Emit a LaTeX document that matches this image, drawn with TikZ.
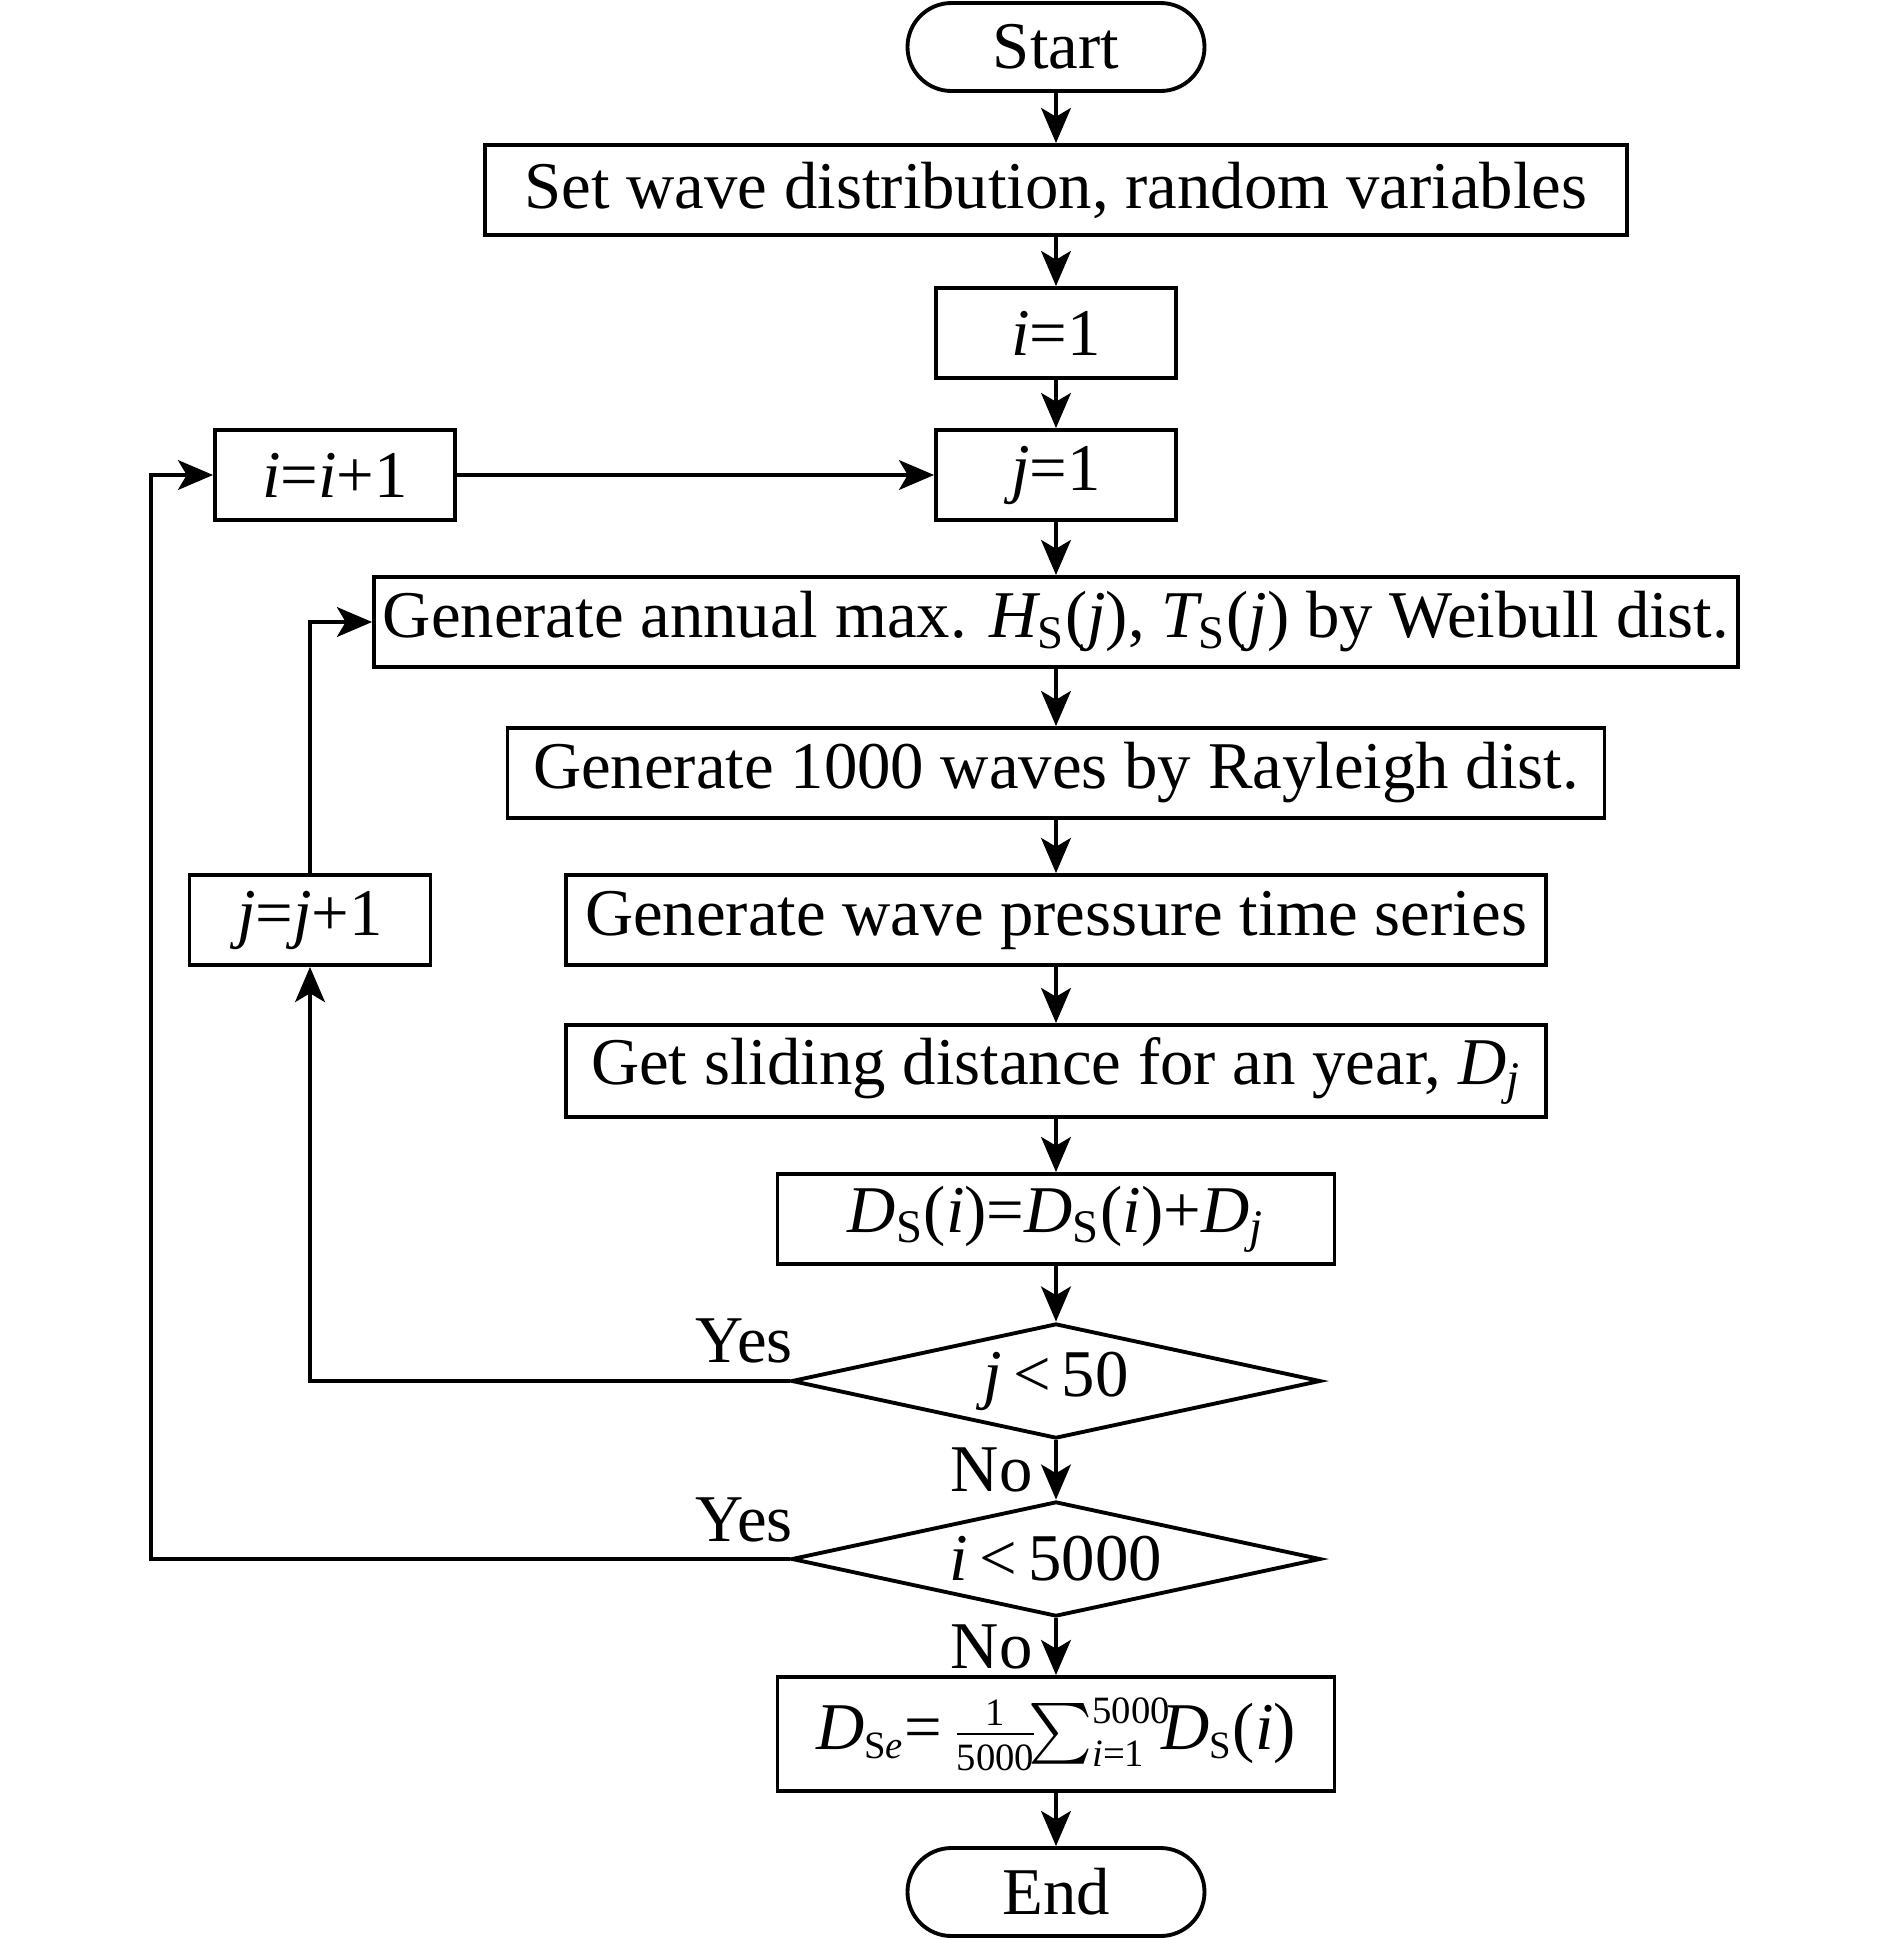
\documentclass[tikz,border=0pt]{standalone}
\usepackage{amsmath}
\usepackage{fontspec}
\setmainfont{Liberation Serif}
\usetikzlibrary{shapes.geometric,arrows.meta,positioning}

\newcommand{\tinytxt}[1]{\mbox{\fontsize{11}{12}\selectfont #1}}

\tikzset{
  procbox/.style={draw, line width=1.1pt, minimum height=0.90cm, inner sep=0pt},
  termbox/.style={draw, line width=1.1pt, rounded corners=0.44cm, minimum width=2.97cm, minimum height=0.88cm, inner sep=0pt},
  testbox/.style={draw, diamond, aspect=4.6, line width=1.1pt, minimum width=5.29cm, minimum height=1.15cm, inner sep=0pt},
  flow/.style={line width=0.9pt, -{Stealth[length=10pt, width=8.5pt, inset=2.5pt]}},
  note/.style={inner sep=0pt},
}

\begin{document}
\begin{tikzpicture}[font=\fontsize{19}{23}\selectfont]
  \useasboundingbox (0,0) rectangle (18.9,-19.39);

  % main column
  \node[termbox] (start) at (10.56,-0.47) {Start};
  \node[procbox, minimum width=11.42cm] (setup) at (10.56,-1.90) {Set wave distribution, random variables};
  \node[procbox, minimum width=2.40cm] (ione) at (10.56,-3.33) {\textit{i}=1};
  \node[procbox, minimum width=2.40cm] (jone) at (10.56,-4.75) {\textit{j}=1};
  \node[procbox, minimum width=13.64cm] (gen) at (10.56,-6.22) {Generate annual max. $\textit{H}_{\textrm{S}}$(\textit{j}), $\textit{T}_{\textrm{S}}$(\textit{j}) by Weibull dist.};
  \node[procbox, minimum width=10.97cm] (waves) at (10.56,-7.73) {Generate 1000 waves by Rayleigh dist.};
  \node[procbox, minimum width=9.80cm] (press) at (10.56,-9.20) {Generate wave pressure time series};
  \node[procbox, minimum width=9.80cm, minimum height=0.92cm] (slide) at (10.56,-10.71) {Get sliding distance for an year, $\textit{D}_{\textit{j}}$};
  \node[procbox, minimum width=5.57cm] (accum) at (10.56,-12.19) {$\textit{D}_{\textrm{S}}$(\textit{i})=$\textit{D}_{\textrm{S}}$(\textit{i})+$\textit{D}_{\textit{j}}$};
  \node[testbox] (dJ) at (10.56,-13.81) {\textit{j}\,<\,50};
  \node[testbox] (dI) at (10.56,-15.59) {\textit{i}\,<\,5000};
  \node[procbox, minimum width=5.57cm, minimum height=1.14cm] (mean) at (10.56,-17.34)
    {$\textit{D}_{\tinytxt{S\textit{e}}}\textrm{=}\,\frac{\tinytxt{1}}{\tinytxt{5000}}\!\mathord{\sum}_{\tinytxt{\textit{i}=1}}^{\tinytxt{5000}}\!\textit{D}_{\tinytxt{S}}\textrm{(}\textit{i}\textrm{)}$};
  \node[termbox] (fin) at (10.56,-18.92) {End};

  % counters
  \node[procbox, minimum width=2.40cm] (iinc) at (3.35,-4.75) {\textit{i}=\textit{i}+1};
  \node[procbox, minimum width=2.41cm] (jinc) at (3.10,-9.20) {\textit{j}=\textit{j}+1};

  \foreach \a/\b in {start/setup, setup/ione, ione/jone, jone/gen, gen/waves,
                     waves/press, press/slide, slide/accum, accum/dJ, mean/fin}
    \draw[flow] (\a) -- (\b);
  \draw[flow] (dJ) -- node[note, left=0.22cm] (noJ) {No} (dI);
  \draw[flow] (dI) -- node[note, left=0.22cm] (noI) {No} (mean);

  % loops
  \node[note, above left=0.17cm and -0.04cm of dJ.west] (yesJ) {Yes};
  \node[note, above left=0.16cm and -0.04cm of dI.west] (yesI) {Yes};
  \draw[flow] (dJ.west) -| (jinc.south);
  \draw[flow] (jinc.north) |- (gen.west);
  \coordinate (iback) at (1.51,-15.59);
  \draw[flow] (dI.west) -- (iback) |- (iinc.west);
  \draw[flow] (iinc) -- (jone);
\end{tikzpicture}
\end{document}
